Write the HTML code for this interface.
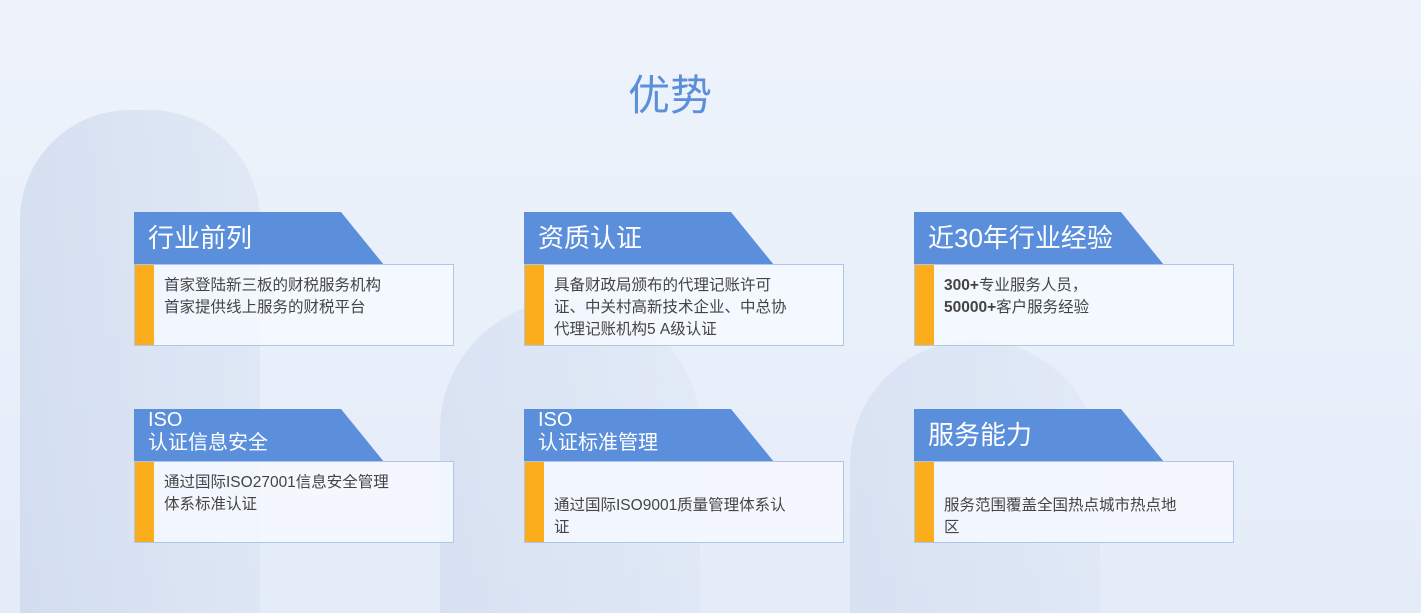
<!DOCTYPE html>
<html><head><meta charset="utf-8"><style>
body{margin:0;width:1421px;height:613px;overflow:hidden;position:relative;font-family:"Liberation Sans","Noto Sans CJK SC",sans-serif;background:linear-gradient(180deg,#eef3fb 0%,#e9f0fa 50%,#e4ecf8 100%);}
.bld{position:absolute;background:linear-gradient(90deg,#c3d1e8,#d8e2f2);opacity:.55}
h1{position:absolute;left:0;width:1340px;top:62px;margin:0;text-align:center;font-weight:normal;font-size:42px;color:#5b8fd9}
.card{position:absolute;width:320px;height:134px}
.tab{position:absolute;left:0;top:0;width:250px;height:53px;background:#5b8fdc;clip-path:polygon(0 0,207px 0,250px 53px,0 53px);color:#fff}
.tab .t{position:absolute;left:14px;top:10px;font-size:26px;line-height:32px;white-space:nowrap}
.tab .s{position:absolute;left:14px;top:0px;font-size:20px;line-height:23px}
.body{position:absolute;left:0;top:52px;width:318px;height:80px;border:1px solid #aec6ea;background:rgba(246,249,255,.85)}
.bar{position:absolute;left:0;top:0;width:19px;height:100%;background:#fbad1b}
.txt{position:absolute;left:29px;font-size:15.5px;line-height:22px;color:#444;white-space:nowrap}
</style></head><body>
<div class="bld" style="left:20px;top:110px;width:240px;height:503px;border-radius:110px 110px 0 0"></div>
<div class="bld" style="left:440px;top:300px;width:260px;height:313px;border-radius:130px 130px 0 0;opacity:.4"></div>
<div class="bld" style="left:850px;top:340px;width:250px;height:273px;border-radius:140px 140px 0 0;opacity:.4"></div>
<h1>优势</h1>

<div class="card" style="left:134px;top:212px"><div class="tab"><div class="t">行业前列</div></div><div class="body"><div class="bar"></div><div class="txt" style="top:10px">首家登陆新三板的财税服务机构<br>首家提供线上服务的财税平台</div></div></div>
<div class="card" style="left:524px;top:212px"><div class="tab"><div class="t">资质认证</div></div><div class="body"><div class="bar"></div><div class="txt" style="top:10px">具备财政局颁布的代理记账许可<br>证、中关村高新技术企业、中总协<br>代理记账机构5 A级认证</div></div></div>
<div class="card" style="left:914px;top:212px"><div class="tab"><div class="t">近30年行业经验</div></div><div class="body"><div class="bar"></div><div class="txt" style="top:10px"><b>300+</b>专业服务人员，<br><b>50000+</b>客户服务经验</div></div></div>

<div class="card" style="left:134px;top:409px"><div class="tab"><div class="s">ISO<br>认证信息安全</div></div><div class="body"><div class="bar"></div><div class="txt" style="top:10px">通过国际ISO27001信息安全管理<br>体系标准认证</div></div></div>
<div class="card" style="left:524px;top:409px"><div class="tab"><div class="s">ISO<br>认证标准管理</div></div><div class="body"><div class="bar"></div><div class="txt" style="top:33px">通过国际ISO9001质量管理体系认<br>证</div></div></div>
<div class="card" style="left:914px;top:409px"><div class="tab"><div class="t">服务能力</div></div><div class="body"><div class="bar"></div><div class="txt" style="top:33px">服务范围覆盖全国热点城市热点地<br>区</div></div></div>
</body></html>
